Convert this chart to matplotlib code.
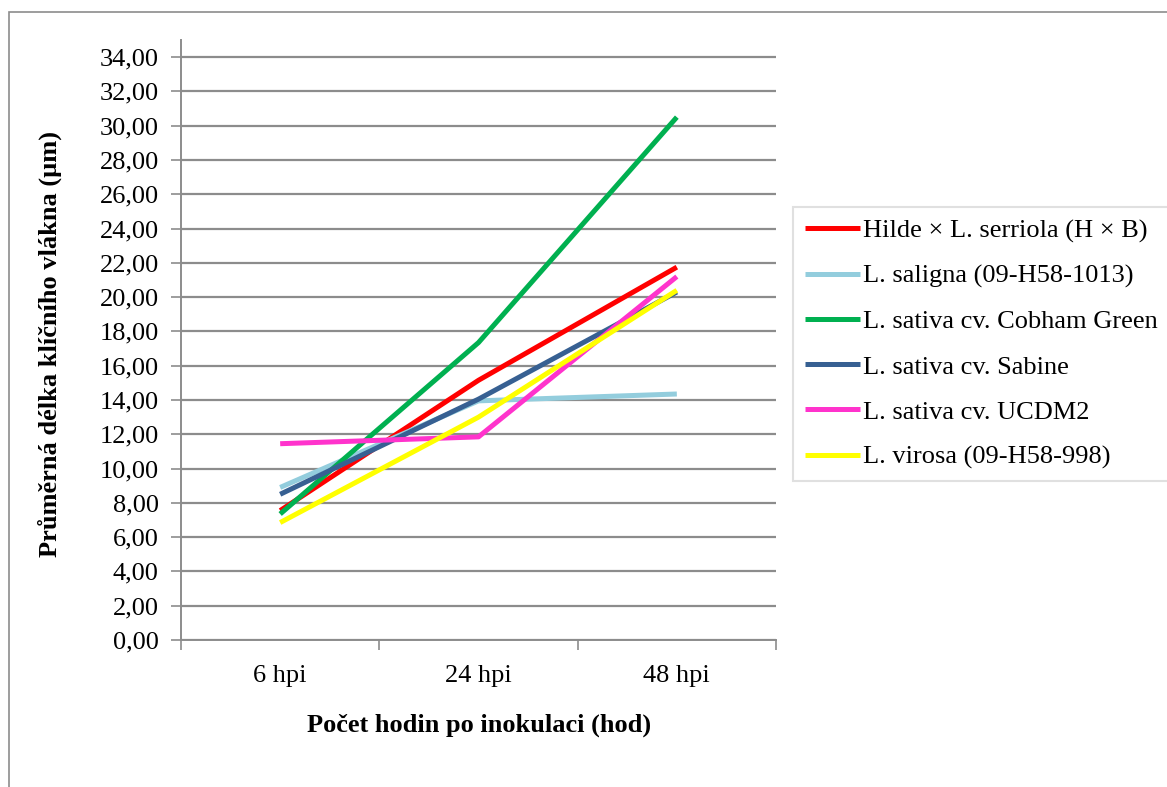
import matplotlib.pyplot as plt
from matplotlib.patches import Rectangle
from matplotlib.ticker import FuncFormatter, FixedLocator

plt.rcParams['font.family'] = ['Liberation Serif', 'DejaVu Serif']

# data
categories = ["6 hpi", "24 hpi", "48 hpi"]
series_names = [
    "Hilde × L. serriola (H × B)",
    "L. saligna (09-H58-1013)",
    "L. sativa cv. Cobham Green",
    "L. sativa cv. Sabine",
    "L. sativa cv. UCDM2",
    "L. virosa (09-H58-998)",
]
hilde = [7.55, 15.15, 21.75]
saligna = [8.90, 13.95, 14.35]
cobham = [7.35, 17.35, 30.50]
sabine = [8.50, 14.05, 20.30]
ucdm2 = [11.45, 11.85, 21.20]
virosa = [6.85, 13.00, 20.40]
colors = ["#FF0000", "#93CDDD", "#00B050", "#376092", "#FF33CC", "#FFFF00"]

W, H = 1167, 787
fig = plt.figure(figsize=(W / 100, H / 100), dpi=100)

# outer chart frame (clipped at right/bottom like the original)
fig.patches.append(Rectangle((9 / W, 1 - 1000 / H), 1200 / W, (1000 - 12) / H,
                             transform=fig.transFigure, fill=False,
                             edgecolor="#8c8c8c", linewidth=1.2))

ax = fig.add_axes([181 / W, 1 - 640 / H, (776 - 181) / W, (640 - 40) / H])

x = list(range(len(categories)))
for vals, name, c in zip([hilde, saligna, cobham, sabine, ucdm2, virosa], series_names, colors):
    ax.plot(x, vals, color=c, linewidth=3.6, label=name, solid_capstyle="butt", zorder=3)

ax.set_xlim(-0.5, 2.5)
ax.set_ylim(0, 35)
ax.set_yticks(range(0, 35, 2))
ax.yaxis.set_major_formatter(FuncFormatter(lambda v, p: f"{v:.2f}".replace(".", ",")))
ax.grid(axis="y", color="#8c8c8c", linewidth=1.6, zorder=1)

ax.set_xticks(x)
ax.set_xticklabels(categories)
ax.xaxis.set_minor_locator(FixedLocator([-0.5, 0.5, 1.5, 2.5]))
ax.tick_params(axis="x", which="major", length=0, pad=18, labelsize=19)
ax.tick_params(axis="x", which="minor", length=7, width=1.2, color="#8c8c8c", direction="out")
ax.tick_params(axis="y", length=7, width=1.2, color="#8c8c8c", pad=9, labelsize=19)

for s in ["top", "right"]:
    ax.spines[s].set_visible(False)
for s in ["left", "bottom"]:
    ax.spines[s].set_color("#8c8c8c")
    ax.spines[s].set_linewidth(1.4)

fig.text(479 / W, 1 - 725 / H, "Počet hodin po inokulaci (hod)", ha="center", va="center",
         fontsize=19, fontweight="bold")
fig.text(50 / W, 1 - 344 / H, "Průměrná délka klíčního vlákna (µm)", ha="center", va="center",
         rotation=90, fontsize=19, fontweight="bold")

leg = ax.legend(loc="upper left", bbox_to_anchor=(793 / W, 1 - 207 / H),
                bbox_transform=fig.transFigure, fontsize=19, frameon=True,
                fancybox=False, edgecolor="#d9d9d9", handlelength=2.1,
                handletextpad=0.12, labelspacing=0.82, borderpad=0.45,
                borderaxespad=0)
leg.get_frame().set_linewidth(1.5)

fig.savefig("out.png", dpi=100)
